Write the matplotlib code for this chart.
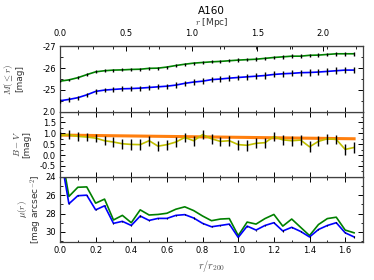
import numpy as np
import matplotlib
matplotlib.use("Agg")
import matplotlib.pyplot as plt
from matplotlib.ticker import MultipleLocator, FixedLocator, FormatStrFormatter

plt.rcParams['font.family'] = ['DejaVu Sans']
plt.rcParams['mathtext.fontset'] = 'cm'
plt.rcParams['axes.unicode_minus'] = False

# ---- data ----
r_r200 = [0.00, 0.05, 0.10, 0.15, 0.20, 0.25, 0.30, 0.35, 0.40, 0.45,
          0.50, 0.55, 0.60, 0.65, 0.70, 0.75, 0.80, 0.85, 0.90, 0.95,
          1.00, 1.05, 1.10, 1.15, 1.20, 1.25, 1.30, 1.35, 1.40, 1.45,
          1.50, 1.55, 1.60, 1.65]
mpc_per_r200 = 1.355
mpc_ticks = [0.0, 0.5, 1.0, 1.5, 2.0]
mpc_minor = [0.25, 0.75, 1.25, 1.75, 2.25]

M_green = [-25.40, -25.46, -25.56, -25.70, -25.83, -25.88, -25.91, -25.92, -25.94, -25.95,
           -25.99, -26.00, -26.05, -26.12, -26.18, -26.23, -26.26, -26.29, -26.31, -26.34,
           -26.37, -26.39, -26.41, -26.45, -26.49, -26.52, -26.55, -26.55, -26.59, -26.60,
           -26.63, -26.66, -26.66, -26.66]
M_green_err = [0.06, 0.06, 0.06, 0.06, 0.07, 0.07, 0.07, 0.07, 0.07, 0.07,
               0.07, 0.07, 0.07, 0.07, 0.07, 0.07, 0.07, 0.07, 0.07, 0.07,
               0.08, 0.08, 0.08, 0.08, 0.08, 0.08, 0.08, 0.08, 0.08, 0.08,
               0.08, 0.09, 0.09, 0.09]
M_blue = [-24.50, -24.56, -24.64, -24.77, -24.93, -24.99, -25.02, -25.05, -25.06, -25.08,
          -25.11, -25.14, -25.17, -25.22, -25.30, -25.36, -25.40, -25.47, -25.50, -25.54,
          -25.57, -25.60, -25.63, -25.66, -25.71, -25.74, -25.76, -25.79, -25.80, -25.82,
          -25.85, -25.88, -25.91, -25.91]
M_blue_err = [0.09, 0.10, 0.10, 0.10, 0.11, 0.11, 0.11, 0.11, 0.11, 0.12,
              0.12, 0.12, 0.12, 0.12, 0.12, 0.12, 0.13, 0.13, 0.13, 0.13,
              0.13, 0.13, 0.13, 0.14, 0.14, 0.14, 0.14, 0.14, 0.14, 0.15,
              0.15, 0.15, 0.15, 0.15]

BV = [0.90, 0.94, 0.86, 0.83, 0.78, 0.66, 0.60, 0.52, 0.49, 0.48,
      0.66, 0.41, 0.48, 0.60, 0.81, 0.66, 0.94, 0.75, 0.63, 0.66,
      0.48, 0.45, 0.54, 0.57, 0.85, 0.70, 0.66, 0.69, 0.38, 0.63,
      0.75, 0.72, 0.26, 0.35]
BV_err = [0.18, 0.20, 0.20, 0.20, 0.20, 0.21, 0.22, 0.24, 0.25, 0.25,
          0.23, 0.23, 0.23, 0.22, 0.20, 0.22, 0.20, 0.22, 0.22, 0.22,
          0.23, 0.24, 0.23, 0.23, 0.20, 0.22, 0.22, 0.22, 0.25, 0.23,
          0.22, 0.22, 0.25, 0.26]
BV_fit_x = [0.00, 1.65]
BV_fit_y = [0.92, 0.75]

mu_green = [20.5, 26.14, 25.14, 25.10, 26.87, 26.43, 28.70, 28.20, 29.00, 27.60,
            28.16, 28.10, 27.97, 27.53, 27.27, 27.68, 28.27, 28.78, 28.60, 28.55,
            30.40, 28.93, 29.15, 28.55, 28.10, 29.37, 28.60, 29.50, 30.40, 29.20,
            28.55, 28.40, 29.80, 30.10]
mu_blue = [21.3, 26.94, 26.06, 26.00, 27.60, 27.16, 29.07, 28.85, 29.30, 28.27,
           28.75, 28.53, 28.53, 28.20, 28.12, 28.49, 29.07, 29.44, 29.30, 29.15,
           30.60, 29.37, 29.80, 29.30, 29.00, 29.90, 29.50, 29.95, 30.55, 29.74,
           29.30, 29.00, 30.10, 30.55]
mu_blue_err = [0.06] * 34

title = "A160"

# ---- figure ----
fig = plt.figure(figsize=(3.74, 2.8), dpi=100)
L, W = 60 / 374, 303 / 374
H = 65.2 / 280
B0 = 1 - 242 / 280
ax3 = fig.add_axes([L, B0, W, H])
ax2 = fig.add_axes([L, B0 + H, W, H], sharex=ax3)
ax1 = fig.add_axes([L, B0 + 2 * H, W, H], sharex=ax3)

GREEN = '#008000'
BLUE = '#0000ff'
YEL = '#bfbf00'
ORANGE = '#ff7f0e'

# top panel
ax1.plot(r_r200, M_green, color=GREEN, lw=1.2, zorder=2)
ax1.errorbar(r_r200, M_green, yerr=M_green_err, fmt='none', ecolor='k', elinewidth=1.0, zorder=3)
ax1.plot(r_r200, M_blue, color=BLUE, lw=1.2, zorder=2)
ax1.errorbar(r_r200, M_blue, yerr=M_blue_err, fmt='none', ecolor='k', elinewidth=1.0, zorder=3)
ax1.set_ylim(-24, -27)
ax1.yaxis.set_major_locator(FixedLocator([-27, -26, -25]))
ax1.yaxis.set_minor_locator(MultipleLocator(0.5))

# middle panel
ax2.plot(BV_fit_x, BV_fit_y, color=ORANGE, lw=2.2, zorder=1)
ax2.plot(r_r200, BV, color=YEL, lw=1.2, zorder=2)
ax2.errorbar(r_r200, BV, yerr=BV_err, fmt='none', ecolor='k', elinewidth=1.0, zorder=3)
ax2.set_ylim(-1.0, 2.0)
ax2.yaxis.set_major_locator(FixedLocator([-0.5, 0.0, 0.5, 1.0, 1.5, 2.0]))
ax2.yaxis.set_minor_locator(MultipleLocator(0.25))

# bottom panel
ax3.plot(r_r200, mu_green, color=GREEN, lw=1.2, zorder=2)
ax3.plot(r_r200, mu_blue, color=BLUE, lw=1.2, zorder=2)
ax3.errorbar(r_r200, mu_blue, yerr=mu_blue_err, fmt='none', ecolor='k', elinewidth=0.8, zorder=3)
ax3.set_ylim(31.1, 24)
ax3.yaxis.set_major_locator(FixedLocator([24, 26, 28, 30]))
ax3.yaxis.set_minor_locator(MultipleLocator(1))

ax3.set_xlim(0, 1.7)
ax3.xaxis.set_major_locator(MultipleLocator(0.2))
ax3.xaxis.set_minor_locator(MultipleLocator(0.1))
ax3.set_xlabel(r'$r/r_{200}$', fontsize=7.5, labelpad=2, color='0.3')

for ax in (ax1, ax2, ax3):
    ax.tick_params(which='both', direction='in', top=True, right=True, labelsize=6, pad=3)
    ax.tick_params(which='major', length=3.5, width=0.7)
    ax.tick_params(which='minor', length=1.8, width=0.6)
    for s in ax.spines.values():
        s.set_linewidth(0.9)
        s.set_color('0.25')
for ax in (ax1, ax2):
    ax.tick_params(labelbottom=False)
ax1.tick_params(top=False)

sec = ax1.secondary_xaxis('top', functions=(lambda x: x * mpc_per_r200,
                                            lambda x: x / mpc_per_r200))
sec.xaxis.set_major_locator(FixedLocator(mpc_ticks))
sec.xaxis.set_minor_locator(FixedLocator(mpc_minor))
sec.tick_params(which='both', direction='in', labelsize=6, pad=6)
sec.tick_params(which='major', length=3.5, width=0.7)
sec.tick_params(which='minor', length=1.8, width=0.6)
sec.xaxis.set_major_formatter(FormatStrFormatter('%.1f'))
sec.set_xlabel(r'$r$ [Mpc]', fontsize=6.5, labelpad=3, color='0.2')
ax1.set_title(title, fontsize=7.5, pad=1)

ax1.set_ylabel('$M(\\leq r)$\n[mag]', fontsize=6.5, linespacing=1.0, color='0.2')
ax1.yaxis.set_label_coords(-0.119, 0.5)
ax2.set_ylabel('$B-V$\n[mag]', fontsize=6.5, linespacing=1.0, color='0.2')
ax2.yaxis.set_label_coords(-0.096, 0.5)
ax3.set_ylabel('$\\mu(r)$\n[mag arcsec$^{-2}$]', fontsize=6.5, linespacing=1.0, color='0.2')
ax3.yaxis.set_label_coords(-0.052, 0.5)

fig.savefig('out.png', dpi=100)
